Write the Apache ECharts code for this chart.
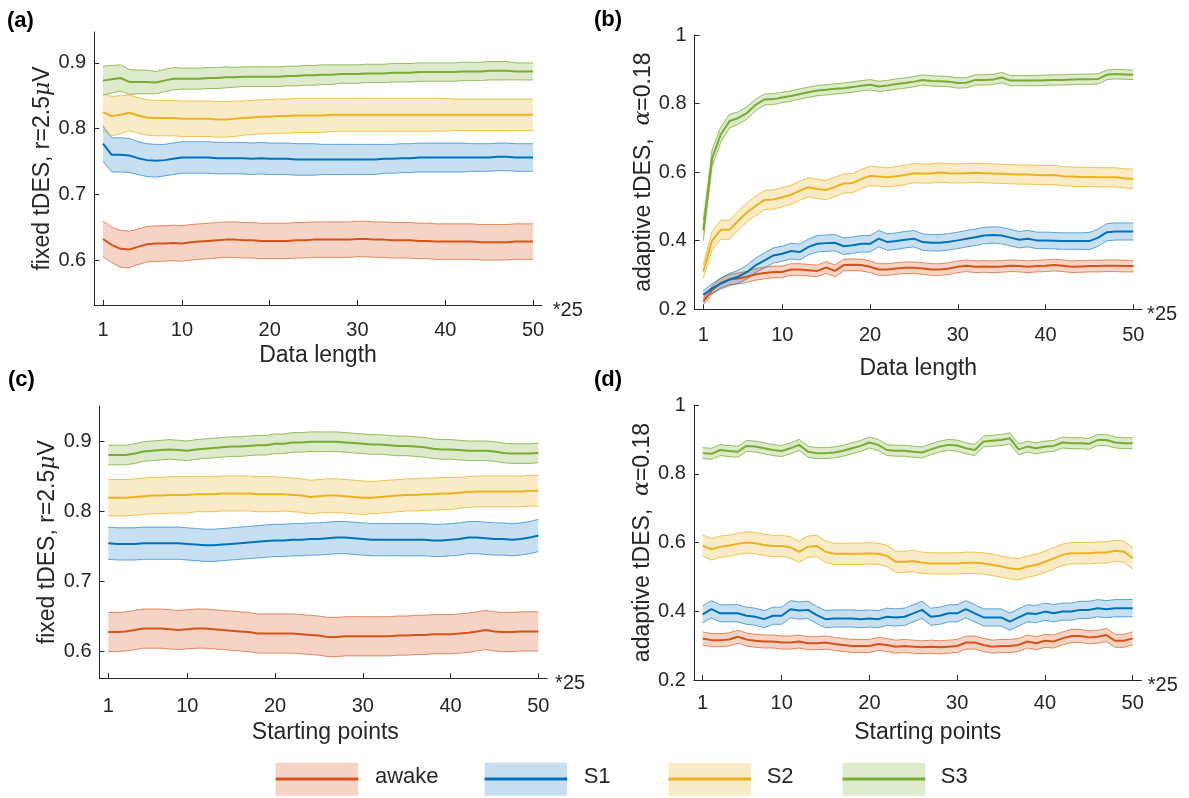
<!DOCTYPE html>
<html>
<head>
<meta charset="utf-8">
<script src="https://cdn.jsdelivr.net/npm/echarts@6/dist/echarts.min.js"></script>
<style>
html,body{margin:0;padding:0;background:#fff;}
#chart{width:1189px;height:798px;}
</style>
</head>
<body>
<div id="chart"></div>
<script>
// ---------------- DATA ----------------
const X = [1,2,3,4,5,6,7,8,9,10,11,12,13,14,15,16,17,18,19,20,21,22,23,24,25,26,27,28,29,30,31,32,33,34,35,36,37,38,39,40,41,42,43,44,45,46,47,48,49,50];
const X_TICKS = [1,10,20,30,40,50];
const Y_TICKS_FIXED = [0.6,0.7,0.8,0.9];
const Y_TICKS_ADAPT = [0.2,0.4,0.6,0.8,1];
const GROUPS = ['awake','S1','S2','S3'];

// Panel (a): fixed tDES vs data length (mean and half-width of shaded band)
const A_awake = [.632,.623,.617,.616,.620,.624,.625,.625,.626,.625,.627,.628,.629,.630,.631,.631,.630,.630,.629,.629,.629,.629,.630,.630,.631,.631,.631,.631,.631,.632,.632,.631,.631,.630,.630,.630,.629,.629,.628,.628,.628,.628,.628,.627,.627,.627,.627,.628,.628,.628];
const A_awake_hw = [.027,.027,.028,.028,.027,.027,.027,.027,.027,.027,.027,.027,.027,.027,.027,.027,.027,.027,.027,.027,.027,.027,.027,.027,.027,.027,.027,.027,.027,.027,.027,.027,.027,.027,.027,.027,.027,.027,.027,.027,.027,.027,.027,.027,.027,.027,.027,.027,.027,.027];
const A_S1 = [.777,.760,.760,.759,.755,.752,.751,.752,.754,.756,.756,.756,.756,.755,.755,.755,.755,.754,.755,.754,.754,.754,.753,.753,.753,.753,.753,.753,.753,.753,.753,.753,.754,.754,.755,.755,.756,.756,.756,.756,.756,.756,.756,.756,.756,.757,.757,.756,.756,.756];
const A_S1_hw = [.027,.026,.026,.026,.025,.025,.025,.024,.024,.024,.024,.024,.024,.024,.024,.024,.024,.024,.024,.024,.024,.024,.024,.024,.024,.023,.023,.023,.023,.023,.023,.023,.022,.022,.022,.022,.022,.022,.022,.022,.022,.022,.021,.021,.021,.021,.021,.021,.021,.021];
const A_S2 = [.825,.819,.821,.824,.820,.817,.816,.816,.816,.815,.815,.815,.815,.814,.814,.815,.816,.817,.818,.818,.819,.819,.820,.820,.820,.820,.821,.821,.821,.821,.821,.821,.821,.821,.821,.821,.821,.821,.821,.821,.821,.821,.821,.821,.821,.821,.821,.821,.821,.821];
const A_S2_hw = [.028,.030,.029,.027,.027,.027,.027,.027,.027,.027,.027,.027,.027,.027,.027,.027,.026,.026,.026,.026,.026,.026,.026,.026,.026,.026,.025,.025,.025,.025,.025,.025,.025,.025,.025,.025,.025,.025,.025,.025,.024,.024,.024,.024,.024,.024,.024,.024,.024,.024];
const A_S3 = [.873,.875,.877,.871,.871,.871,.870,.873,.876,.876,.876,.876,.877,.877,.878,.878,.879,.879,.879,.879,.879,.880,.880,.881,.881,.882,.882,.883,.883,.883,.884,.884,.884,.885,.885,.885,.886,.886,.886,.886,.886,.887,.887,.887,.888,.888,.888,.887,.887,.887];
const A_S3_hw = [.022,.021,.020,.019,.018,.018,.017,.017,.017,.016,.016,.016,.016,.016,.016,.015,.015,.015,.015,.015,.015,.015,.015,.015,.015,.015,.015,.014,.014,.014,.014,.014,.014,.014,.014,.014,.014,.014,.014,.014,.014,.014,.014,.014,.014,.014,.014,.013,.013,.013];

// Panel (b): adaptive tDES vs data length
const B_awake = [.222,.256,.277,.287,.290,.295,.302,.306,.309,.309,.316,.316,.314,.312,.322,.312,.329,.330,.329,.324,.316,.316,.319,.321,.321,.319,.316,.316,.319,.324,.327,.324,.325,.324,.325,.327,.326,.324,.326,.327,.329,.327,.324,.325,.326,.326,.327,.327,.326,.326];
const B_awake_hw = [.010,.012,.014,.015,.016,.016,.017,.017,.017,.017,.017,.017,.017,.017,.017,.017,.017,.017,.017,.017,.017,.017,.017,.017,.017,.017,.017,.017,.017,.017,.017,.017,.017,.017,.017,.017,.017,.017,.017,.017,.017,.017,.017,.017,.017,.017,.017,.017,.017,.017];
const B_S1 = [.242,.261,.275,.287,.295,.309,.329,.343,.357,.362,.370,.367,.382,.391,.393,.394,.384,.387,.391,.391,.406,.396,.399,.403,.406,.396,.394,.394,.397,.401,.406,.410,.415,.417,.415,.409,.403,.406,.401,.401,.400,.399,.399,.399,.399,.409,.425,.427,.427,.427];
const B_S1_hw = [.012,.014,.016,.018,.019,.020,.021,.022,.022,.022,.023,.023,.023,.024,.024,.024,.024,.024,.024,.024,.024,.024,.024,.024,.024,.024,.024,.024,.024,.024,.024,.024,.024,.024,.024,.024,.024,.024,.024,.024,.024,.024,.024,.024,.025,.025,.025,.025,.025,.025];
const B_S2 = [.310,.400,.432,.432,.459,.483,.502,.519,.520,.527,.534,.546,.556,.551,.548,.557,.567,.568,.580,.589,.587,.585,.588,.592,.597,.596,.596,.599,.597,.596,.597,.598,.597,.596,.595,.594,.593,.593,.592,.591,.592,.588,.587,.586,.586,.585,.585,.585,.582,.580];
const B_S2_hw = [.020,.026,.028,.028,.028,.028,.028,.028,.028,.028,.028,.028,.028,.028,.028,.028,.028,.028,.028,.028,.028,.028,.028,.028,.028,.028,.028,.028,.028,.028,.028,.028,.028,.028,.028,.028,.028,.028,.028,.028,.028,.028,.028,.028,.028,.028,.028,.028,.028,.028];
const B_S3 = [.430,.640,.710,.749,.758,.773,.797,.812,.813,.818,.822,.828,.833,.838,.840,.843,.845,.848,.852,.855,.850,.853,.857,.860,.864,.869,.866,.865,.864,.860,.861,.869,.869,.870,.876,.867,.867,.867,.867,.868,.869,.869,.870,.871,.871,.872,.884,.886,.885,.884];
const B_S3_hw = [.030,.025,.022,.020,.018,.018,.017,.016,.016,.015,.015,.015,.015,.015,.015,.015,.015,.015,.015,.015,.015,.015,.015,.015,.015,.015,.015,.015,.015,.015,.015,.015,.015,.015,.015,.015,.015,.015,.015,.015,.015,.015,.015,.015,.015,.015,.014,.014,.014,.014];

// Panel (c): fixed tDES vs starting points
const C_awake = [.628,.628,.629,.631,.633,.633,.633,.632,.631,.632,.633,.633,.632,.631,.630,.629,.628,.626,.626,.626,.626,.626,.625,.624,.623,.621,.621,.622,.622,.622,.622,.622,.622,.623,.623,.624,.624,.625,.625,.625,.626,.627,.629,.631,.629,.628,.628,.629,.629,.629];
const C_awake_hw = [.028,.028,.028,.028,.028,.028,.028,.028,.028,.028,.028,.028,.028,.028,.028,.028,.028,.028,.028,.028,.028,.028,.028,.028,.028,.028,.028,.028,.028,.028,.028,.028,.028,.028,.028,.028,.028,.028,.028,.028,.028,.028,.028,.028,.028,.028,.028,.028,.028,.028];
const C_S1 = [.755,.754,.754,.754,.755,.755,.755,.755,.755,.754,.753,.752,.752,.753,.754,.755,.756,.757,.758,.759,.759,.760,.760,.761,.761,.762,.763,.763,.762,.761,.760,.760,.760,.760,.760,.760,.760,.759,.759,.760,.761,.763,.763,.762,.761,.761,.760,.761,.763,.766];
const C_S1_hw = [.023,.023,.023,.023,.023,.023,.023,.023,.023,.023,.023,.023,.023,.023,.023,.023,.023,.023,.023,.023,.023,.023,.023,.023,.023,.023,.023,.023,.023,.023,.023,.023,.023,.023,.023,.023,.023,.023,.023,.023,.023,.023,.023,.023,.023,.023,.023,.023,.023,.023];
const C_S2 = [.820,.820,.820,.821,.822,.823,.823,.824,.824,.824,.825,.825,.825,.826,.826,.826,.826,.825,.825,.825,.825,.824,.823,.821,.822,.823,.823,.822,.821,.820,.820,.821,.822,.823,.824,.824,.825,.825,.826,.826,.827,.828,.829,.829,.829,.829,.829,.829,.830,.830];
const C_S2_hw = [.026,.026,.026,.026,.026,.026,.026,.026,.026,.026,.025,.025,.025,.025,.025,.025,.025,.025,.025,.025,.024,.024,.024,.024,.024,.024,.024,.024,.024,.024,.023,.023,.023,.023,.023,.023,.023,.023,.023,.023,.022,.022,.022,.022,.022,.022,.022,.022,.022,.022];
const C_S3 = [.881,.881,.881,.883,.886,.887,.888,.889,.888,.887,.889,.890,.891,.892,.893,.893,.894,.895,.895,.897,.897,.899,.899,.900,.900,.900,.900,.899,.898,.897,.896,.896,.895,.894,.894,.893,.892,.890,.889,.889,.888,.887,.887,.887,.886,.884,.883,.883,.883,.884];
const C_S3_hw = [.014,.014,.014,.014,.014,.014,.014,.014,.014,.014,.014,.014,.014,.014,.014,.014,.014,.014,.014,.014,.014,.014,.014,.014,.014,.014,.014,.014,.014,.014,.014,.014,.014,.014,.014,.014,.014,.014,.014,.014,.014,.014,.014,.014,.014,.014,.014,.014,.014,.014];

// Panel (d): adaptive tDES vs starting points
const D_awake = [.321,.316,.316,.318,.326,.318,.314,.312,.312,.309,.309,.312,.307,.307,.309,.305,.302,.299,.299,.299,.305,.302,.297,.299,.297,.295,.297,.295,.297,.299,.309,.309,.302,.297,.299,.299,.302,.312,.307,.314,.312,.321,.328,.328,.324,.326,.331,.314,.314,.321];
const D_awake_hw = [.019,.019,.019,.019,.019,.019,.019,.019,.019,.019,.019,.019,.019,.019,.019,.019,.019,.019,.019,.019,.019,.019,.019,.019,.019,.019,.019,.019,.019,.019,.019,.019,.019,.019,.019,.019,.019,.019,.019,.019,.019,.019,.019,.019,.019,.019,.019,.019,.019,.019];
const D_S1 = [.391,.406,.394,.394,.394,.387,.384,.377,.387,.387,.406,.402,.404,.389,.377,.379,.379,.379,.377,.379,.377,.384,.382,.384,.394,.404,.384,.387,.394,.394,.406,.394,.382,.382,.382,.370,.382,.394,.392,.399,.394,.399,.399,.404,.404,.409,.406,.409,.409,.409];
const D_S1_hw = [.025,.025,.025,.025,.025,.025,.025,.025,.025,.025,.025,.025,.025,.025,.025,.025,.025,.025,.025,.025,.025,.025,.025,.025,.025,.025,.025,.025,.025,.025,.025,.025,.025,.025,.025,.025,.025,.025,.025,.025,.025,.025,.025,.025,.025,.025,.025,.025,.025,.025];
const D_S2 = [.591,.580,.588,.591,.596,.600,.598,.593,.590,.590,.586,.573,.588,.590,.573,.567,.567,.567,.567,.569,.567,.561,.544,.544,.546,.541,.539,.539,.539,.539,.541,.541,.539,.535,.530,.525,.522,.530,.535,.544,.554,.564,.569,.569,.569,.571,.571,.576,.573,.554];
const D_S2_hw = [.031,.031,.031,.031,.031,.031,.031,.031,.031,.031,.031,.031,.031,.031,.031,.031,.031,.031,.031,.031,.031,.031,.031,.031,.031,.031,.031,.031,.031,.031,.031,.031,.031,.031,.031,.031,.031,.031,.031,.031,.031,.031,.031,.031,.031,.031,.031,.031,.031,.031];
const D_S3 = [.860,.858,.869,.866,.864,.881,.879,.874,.869,.866,.874,.884,.864,.860,.860,.862,.867,.874,.881,.891,.884,.869,.867,.867,.864,.862,.871,.879,.884,.882,.874,.869,.894,.896,.898,.903,.871,.879,.874,.879,.881,.891,.889,.889,.887,.898,.898,.891,.889,.889];
const D_S3_hw = [.016,.016,.016,.016,.016,.016,.016,.016,.016,.016,.016,.016,.016,.016,.016,.016,.016,.016,.016,.016,.016,.016,.016,.016,.016,.016,.016,.016,.016,.016,.016,.016,.016,.016,.016,.016,.016,.016,.016,.016,.016,.016,.016,.016,.016,.016,.016,.016,.016,.016];

// ---------------- STYLE ----------------
const FONT = '"Liberation Sans", Arial, Helvetica, sans-serif';
const TXT = '#262626';
const AXC = '#262626';
const COLORS = {awake:'#D95319', S1:'#0072BD', S2:'#EDB120', S3:'#77AC30'};
const FILLS  = {awake:'rgba(217,83,25,0.25)', S1:'rgba(0,114,189,0.22)', S2:'rgba(237,177,32,0.25)', S3:'rgba(119,172,48,0.25)'};
const EDGES  = {awake:'rgba(217,83,25,0.65)', S1:'rgba(0,114,189,0.6)', S2:'rgba(237,177,32,0.75)', S3:'rgba(119,172,48,0.75)'};

const panels = [
  {key:'a', label:'(a)', data:{awake:[A_awake,A_awake_hw],S1:[A_S1,A_S1_hw],S2:[A_S2,A_S2_hw],S3:[A_S3,A_S3_hw]},
   grid:{left:94.2, top:32, width:447.6, height:273}, ymin:0.5315, ymax:0.947, yticks:Y_TICKS_FIXED,
   yname:'fixed tDES, r=2.5{g|μ}V', xname:'Data length', ygap:38, xgap:39, xmargin:15, endGap:11, lab:[7,10], xnamePad:[0,0,0,0]},
  {key:'b', label:'(b)', data:{awake:[B_awake,B_awake_hw],S1:[B_S1,B_S1_hw],S2:[B_S2,B_S2_hw],S3:[B_S3,B_S3_hw]},
   grid:{left:694.5, top:35, width:447.6, height:274.3}, ymin:0.2, ymax:1, yticks:Y_TICKS_ADAPT,
   yname:'adaptive tDES,  {g|α}=0.18', xname:'Data length', ygap:32, xgap:48, xmargin:16, endGap:5, lab:[594,9], xnamePad:[0,0,0,0]},
  {key:'c', label:'(c)', data:{awake:[C_awake,C_awake_hw],S1:[C_S1,C_S1_hw],S2:[C_S2,C_S2_hw],S3:[C_S3,C_S3_hw]},
   grid:{left:99.5, top:406, width:447.6, height:272.3}, ymin:0.562, ymax:0.951, yticks:Y_TICKS_FIXED,
   yname:'fixed tDES, r=2.5{g|μ}V', xname:'Starting points', ygap:40, xgap:43, xmargin:18, endGap:8, lab:[8,369], xnamePad:[0,0,0,4]},
  {key:'d', label:'(d)', data:{awake:[D_awake,D_awake_hw],S1:[D_S1,D_S1_hw],S2:[D_S2,D_S2_hw],S3:[D_S3,D_S3_hw]},
   grid:{left:693.9, top:405, width:447.6, height:275}, ymin:0.2, ymax:1, yticks:Y_TICKS_ADAPT,
   yname:'adaptive tDES,  {g|α}=0.18', xname:'Starting points', ygap:38, xgap:41, xmargin:13.5, endGap:6, lab:[594,369], xnamePad:[0,0,0,20]}
];

const grids = [], xAxes = [], yAxes = [], series = [], graphics = [];
const fmtY = v => (Math.abs(v-1) < 1e-9 ? '1' : (+v).toFixed(1));

// band polygon drawn through the axes' own coordinate conversion
function bandRenderer(rows, fill) {
  return function (params, api) {
    if (params.dataIndex !== 0) return null;
    const pts = [];
    for (let i = 0; i < rows.length; i++) pts.push(api.coord([rows[i][0], rows[i][2]]));
    for (let i = rows.length - 1; i >= 0; i--) pts.push(api.coord([rows[i][0], rows[i][1]]));
    return {type:'polygon', shape:{points:pts}, style:{fill:fill, stroke:null}, silent:true};
  };
}

panels.forEach((p, gi) => {
  grids.push(Object.assign({containLabel:false}, p.grid));
  xAxes.push({
    type:'value', gridIndex:gi, min:0, max:51,
    name:'*25', nameLocation:'end', nameGap:p.endGap,
    nameTextStyle:{fontFamily:FONT, fontSize:20, color:TXT, align:'left', verticalAlign:'top', padding:[-5,0,0,0]},
    axisLine:{show:true, lineStyle:{color:AXC, width:1}},
    axisTick:{show:true, inside:true, length:5, customValues:X_TICKS, lineStyle:{color:AXC}},
    axisLabel:{show:true, customValues:X_TICKS, margin:p.xmargin, fontFamily:FONT, fontSize:20, color:TXT},
    splitLine:{show:false}
  });
  xAxes.push({
    type:'value', gridIndex:gi, min:0, max:51, position:'bottom',
    name:p.xname, nameLocation:'middle', nameGap:p.xgap,
    nameTextStyle:{fontFamily:FONT, fontSize:23, color:TXT, padding:p.xnamePad},
    axisLine:{show:false}, axisTick:{show:false}, axisLabel:{show:false}, splitLine:{show:false}
  });
  yAxes.push({
    type:'value', gridIndex:gi, min:p.ymin, max:p.ymax,
    name:p.yname, nameLocation:'middle', nameGap:p.ygap, nameRotate:90,
    nameTextStyle:{fontFamily:FONT, fontSize:23, color:TXT,
      rich:{g:{fontFamily:'"DejaVu Serif", "Liberation Serif", serif', fontStyle:'italic', fontSize:22, color:TXT}}},
    axisLine:{show:true, lineStyle:{color:AXC, width:1}},
    axisTick:{show:true, inside:true, length:5, customValues:p.yticks, lineStyle:{color:AXC}},
    axisLabel:{show:true, customValues:p.yticks, margin:8, fontFamily:FONT, fontSize:20, color:TXT, formatter:fmtY},
    splitLine:{show:false}
  });
  const xi = gi*2;
  GROUPS.forEach(g => {
    const [mean, hw] = p.data[g];
    const rows = X.map((x,i) => [x, +(mean[i]-hw[i]).toFixed(4), +(mean[i]+hw[i]).toFixed(4)]);
    series.push({
      type:'custom', name:g, xAxisIndex:xi, yAxisIndex:gi, data:rows,
      encode:{x:0, y:[1,2]}, renderItem:bandRenderer(rows, FILLS[g]), silent:true, z:1, clip:true
    });
    series.push({
      type:'line', name:g, xAxisIndex:xi, yAxisIndex:gi, data:rows.map(r => [r[0], r[1]]),
      symbol:'none', silent:true, lineStyle:{color:EDGES[g], width:1}, z:2
    });
    series.push({
      type:'line', name:g, xAxisIndex:xi, yAxisIndex:gi, data:rows.map(r => [r[0], r[2]]),
      symbol:'none', silent:true, lineStyle:{color:EDGES[g], width:1}, z:2
    });
    series.push({
      type:'line', name:g, xAxisIndex:xi, yAxisIndex:gi, data:X.map((x,i) => [x, mean[i]]),
      symbol:'none', silent:true, lineStyle:{color:COLORS[g], width:2}, z:3
    });
  });
  graphics.push({type:'text', left:p.lab[0], top:p.lab[1],
    style:{text:p.label, fontFamily:FONT, fontSize:22, fontWeight:'bold', fill:'#000'}});
});

// Legend (patch with centre line, like the reference)
const LEG_X = {awake:[275.6,375], S1:[484.6,583.7], S2:[668.5,766.7], S3:[842.6,940.8]};
GROUPS.forEach(g => {
  const [px, tx] = LEG_X[g];
  graphics.push({type:'rect', left:px, top:762.7, shape:{width:82.6, height:33}, style:{fill:FILLS[g]}});
  graphics.push({type:'line', shape:{x1:px, y1:779, x2:px+82.6, y2:779}, style:{stroke:COLORS[g], lineWidth:3}});
  graphics.push({type:'text', left:tx, top:766, style:{text:g, fontFamily:FONT, fontSize:22, fill:TXT}});
});

const chart = echarts.init(document.getElementById('chart'), null, {renderer:'canvas'});
chart.setOption({
  animation:false,
  backgroundColor:'#ffffff',
  grid:grids, xAxis:xAxes, yAxis:yAxes, series:series, graphic:graphics
});
</script>
</body>
</html>
